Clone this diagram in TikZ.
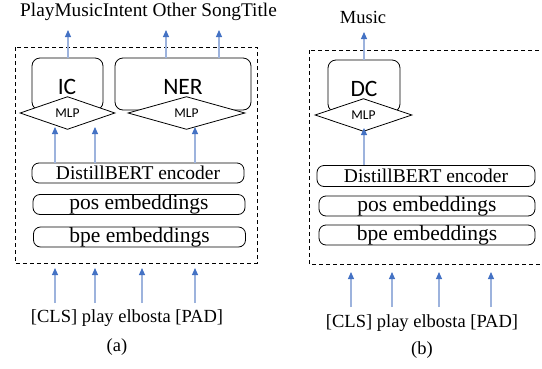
\documentclass[tikz,border=0pt]{standalone}
\usepackage{fontspec}
\setmainfont{Liberation Serif}
\newfontfamily\boxfont{Carlito}
\usetikzlibrary{arrows.meta,shapes.geometric}
\definecolor{tipblue}{HTML}{4472C4}
\definecolor{shaftblue}{HTML}{9DB3DD}

\begin{document}
\begin{tikzpicture}[x=1pt,y=-1pt,line width=.8pt,
  layer/.style={draw,rounded corners=7pt,inner sep=0pt,minimum width=212pt,minimum height=20pt,font=\fontsize{19.5}{22}\selectfont},
  emb/.style={layer,font=\fontsize{21.5}{24}\selectfont},
  head/.style={draw,rounded corners=8pt,inner sep=0pt,minimum height=52pt},
  headlab/.style={inner sep=0pt,font=\boxfont\fontsize{23.5}{27}\selectfont},
  mlp/.style={diamond,draw,fill=white,inner sep=0pt,minimum height=20pt,font=\boxfont\fontsize{13.5}{15}\selectfont},
  frame/.style={dash pattern=on 4pt off 3pt,line width=.9pt},
  arr/.style={shaftblue,line width=1.1pt,-{Triangle[length=7pt,width=6pt,color=tipblue]}},
  txt/.style={inner sep=1pt,font=\fontsize{18.5}{21}\selectfont}]
\path[use as bounding box] (0,0) rectangle (542,368);
% (a) intent + slot model
\draw[frame] (15,47) rectangle (257,263);
\node[txt,font=\fontsize{19.3}{22}\selectfont] (outa) at (148.5,12) {PlayMusicIntent Other SongTitle};
\node[head,minimum width=71pt] (ic) at (67.5,84) {};
\node[head,minimum width=136pt] (ner) at (183,84) {};
\node[headlab] (iclab) at (67,87) {IC};
\node[headlab] (nerlab) at (183,87) {NER};
\node[mlp,minimum width=95pt] (icmlp) at (67.5,113) {MLP};
\node[mlp,minimum width=117pt] (nermlp) at (186.5,113) {MLP};
\node[layer] (enca) at (138,173) {DistillBERT encoder};
\node[emb] (posa) at (139,204.5) {pos embeddings};
\node[emb] (bpea) at (139.5,237) {bpe embeddings};
\coordinate (icout) at (68,30);
\coordinate (nerout1) at (166,30);
\coordinate (nerout2) at (219,30);
\draw[arr] (icout |- ic.north) -- (icout);
\draw[arr] (nerout1 |- ner.north) -- (nerout1);
\draw[arr] (nerout2 |- ner.north) -- (nerout2);
\foreach \x [count=\i] in {55,95,195} {
  \coordinate (mida\i) at (\x,127);
  \draw[arr] (mida\i |- enca.north) -- (mida\i);
}
\foreach \x [count=\i] in {55,95,142,195} {
  \coordinate (toka\i) at (\x,303);
  \coordinate (ina\i) at (\x,268);
  \draw[arr] (toka\i) -- (ina\i);
}
\node[txt] (tokensa) at (127,318) {[CLS] play elbosta [PAD]};
\node[txt] (capa) at (117,347) {(a)};
% (b) domain model
\draw[frame] (309,50) rectangle (560,264);
\node[txt] (outb) at (363,17) {Music};
\node[head,minimum width=72pt] (dc) at (364,86) {};
\node[headlab] (dclab) at (364,89) {DC};
\node[mlp,minimum width=97pt] (dcmlp) at (363.5,115) {MLP};
\node[layer,minimum width=218pt,minimum height=21pt] (encb) at (426,176) {DistillBERT encoder};
\node[emb,minimum width=216pt] (posb) at (427,206) {pos embeddings};
\node[emb,minimum width=216pt] (bpeb) at (427,235) {bpe embeddings};
\coordinate (dcout) at (364,32);
\draw[arr] (dc.north) -- (dcout);
\coordinate (midb) at (364,128);
\draw[arr] (midb |- encb.north) -- (midb);
\foreach \x [count=\i] in {351,392,439,491} {
  \coordinate (tokb\i) at (\x,307);
  \coordinate (inb\i) at (\x,272);
  \draw[arr] (tokb\i) -- (inb\i);
}
\node[txt] (tokensb) at (422,323) {[CLS] play elbosta [PAD]};
\node[txt] (capb) at (422,350) {(b)};
\end{tikzpicture}
\end{document}
